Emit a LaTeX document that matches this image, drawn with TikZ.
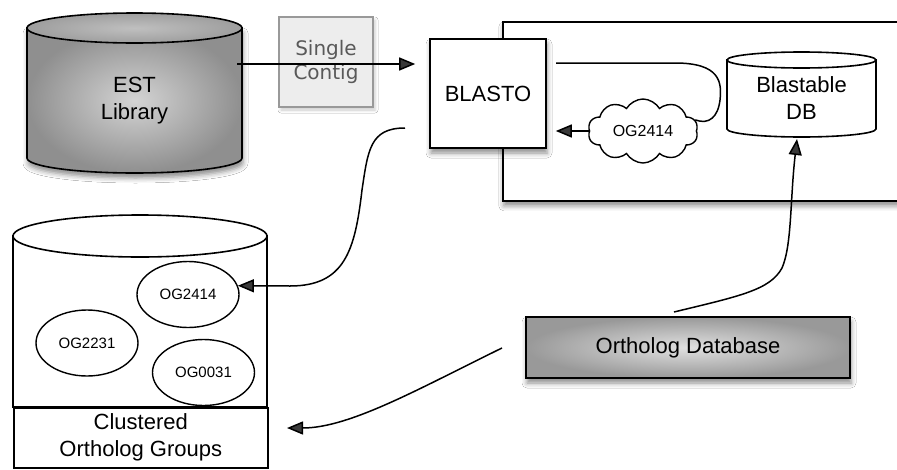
\documentclass[tikz,border=0pt]{standalone}
\usepackage{fontspec}
\setmainfont{Liberation Sans}
\newfontfamily\dvs{DejaVu Sans}
\usetikzlibrary{arrows.meta,shapes.symbols,shapes.geometric,shadows,shadows.blur}
\begin{document}
\begin{tikzpicture}[x=1pt,y=-1pt,
  lbl/.style={font=\fontsize{22}{27}\selectfont, align=center},
  small/.style={font=\fontsize{15}{18}\selectfont},
  box/.style={draw=black, line width=1.6pt, fill=white},
  conn/.style={line width=1.5pt},
  arr/.style={conn, -{Triangle[length=16pt,width=13pt]}},
  bshadow/.style={blur shadow={shadow xshift=1pt, shadow yshift=-5pt, shadow blur radius=5pt, shadow opacity=45}},
  og/.style={ellipse, draw, line width=1.4pt, fill=white, minimum width=102pt, minimum height=66pt, inner sep=0pt, small}
]
\useasboundingbox (0,0) rectangle (897,469);
\fill[white] (0,0) rectangle (897,469);

% EST library cylinder
\path[bshadow, shade, inner color=black!17, outer color=black!44, draw=black, line width=1.6pt]
  (27,28) -- (27,158) .. controls (27,166.3) and (75.1,173) .. (134.5,173)
  .. controls (193.9,173) and (242,166.3) .. (242,158) -- (242,28) -- cycle;
\path[shade, inner color=black!25, outer color=black!38, draw=black, line width=1.6pt]
  (134.5,28) ellipse [x radius=107.5pt, y radius=15pt];
\node[lbl] (est) at (134.5,101) {EST\\Library};
\coordinate (estout) at (237,64);

% Single contig
\node[draw=black!40, fill=black!7, line width=1.2pt, minimum width=94pt, minimum height=90pt,
  font=\dvs\fontsize{20}{24}\selectfont, text=black!65, align=center,
  blur shadow={shadow xshift=2pt, shadow yshift=-3pt, shadow blur radius=3pt, shadow opacity=20}]
  (contig) at (326,62) {Single\\Contig};

% big container
\node[box, bshadow, minimum width=410pt, minimum height=179pt, inner sep=0pt, anchor=north west]
  (container) at (502,21) {};

% BLASTO
\node[box, bshadow, minimum width=116pt, minimum height=109pt, lbl] (blasto) at (488,93.5) {BLASTO};

\draw[arr, shorten >=14pt] (estout) -- (estout -| blasto.west);

% Blastable DB cylinder
\path[fill=white, draw=black, line width=1.6pt]
  (727,60) -- (727,129) .. controls (727,133.4) and (760.4,137) .. (801.5,137)
  .. controls (842.6,137) and (876,133.4) .. (876,129) -- (876,60) -- cycle;
\path[fill=white, draw=black, line width=1.6pt] (801.5,60) ellipse [x radius=74.5pt, y radius=8pt];
\node[lbl] (bdb) at (801.5,98) {Blastable\\DB};
\coordinate (bdbbot) at (797,139);

% cloud
\node[cloud, draw, line width=1.4pt, fill=white, cloud puffs=10, cloud puff arc=120, aspect=1.7,
  minimum width=110pt, minimum height=64pt, inner sep=0pt, font=\fontsize{16}{19}\selectfont]
  (cloud) at (643,131) {OG2414};
\coordinate (loopstart) at (556,63);
\draw[conn] (loopstart) -- (675,63) .. controls (720,63) and (722,82) .. (720,100)
  .. controls (718,117) and (709,125) .. (cloud.12);
\draw[arr, shorten >=9pt] (cloud.west) -- (cloud.west -| blasto.east);

% Ortholog Database
\node[draw=black, line width=1.6pt, shade, inner color=black!12, outer color=black!40, bshadow,
  minimum width=324pt, minimum height=61pt, lbl] (odb) at (688,347.5) {Ortholog Database};
\coordinate (odbtop) at (674,312);
\draw[arr] (odbtop) .. controls (740,296) and (770,290) .. (782,268)
  .. controls (792,245) and (790,200) .. (bdbbot);

% Clustered cylinder
\path[fill=white, draw=black, line width=1.6pt] (13,236) -- (13,407) -- (267,407) -- (267,236) -- cycle;
\path[fill=white, draw=black, line width=1.6pt] (140,236) ellipse [x radius=127pt, y radius=21pt];
\node[box, minimum width=254pt, minimum height=60pt, inner sep=0pt, lbl, anchor=north west]
  (cog) at (13,407) {Clustered\\Ortholog Groups};
\node[og] (og1) at (188,294.5) {OG2414};
\node[og] (og2) at (87,343) {OG2231};
\node[og] (og3) at (203.5,372.5) {OG0031};

% BLASTO -> OG2414
\coordinate (blastoout) at (405,128);
\draw[arr] (blastoout) .. controls (370,128) and (368,150) .. (362,190)
  .. controls (355,250) and (345,286) .. (290,286) -- (og1.10);

% Ortholog DB -> Clustered
\coordinate (odbleft) at (502,348);
\coordinate (cogin) at (287,428);
\draw[arr] (odbleft) .. controls (420,388) and (350,428) .. (cogin);
\end{tikzpicture}
\end{document}
